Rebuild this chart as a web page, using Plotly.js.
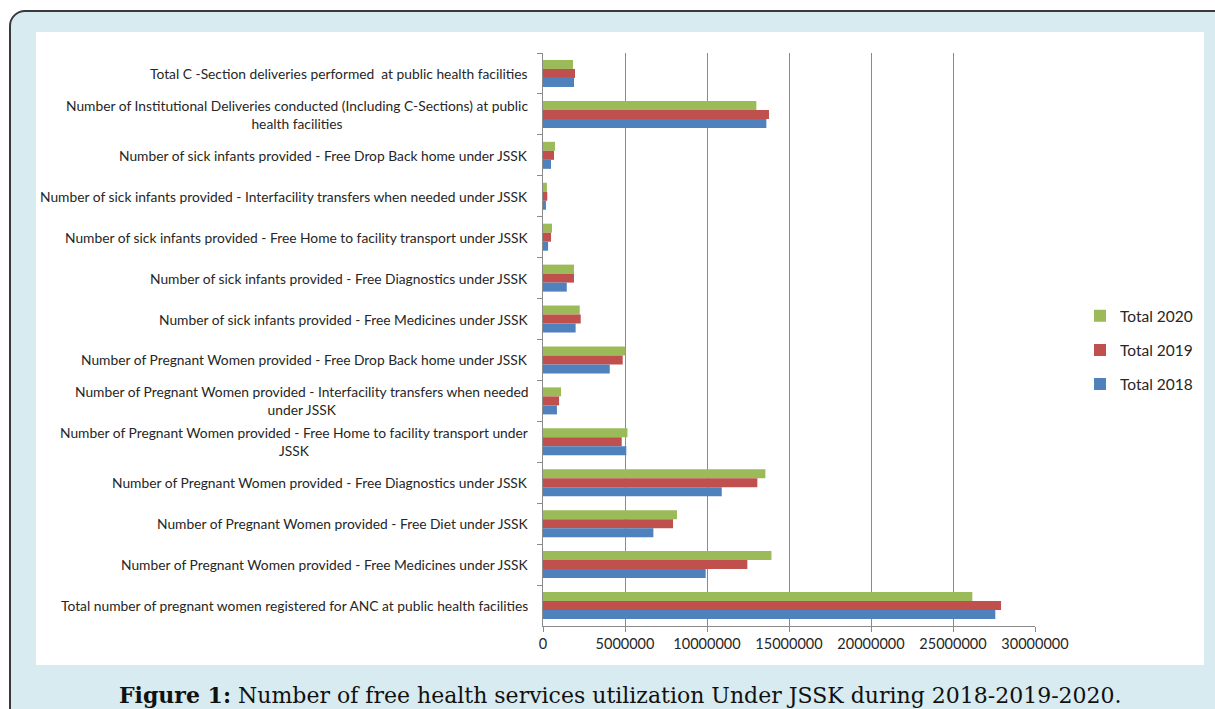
<!DOCTYPE html>
<html>
<head>
<meta charset="utf-8">
<script src="https://cdn.plot.ly/plotly-3.0.1.min.js"></script>
<style>
  html, body { margin: 0; padding: 0; background: #ffffff; overflow: hidden; width: 1215px; height: 709px; }
  #frame { position: absolute; left: 9px; top: 10px; width: 1240px; height: 740px; border: 2px solid #3a3a3a; border-radius: 16px; background: #d7ebf0; box-sizing: border-box; }
  #inner { position: absolute; left: 36px; top: 32px; width: 1168px; height: 633px; background: #ffffff; }
  #chart { position: absolute; left: 0; top: 0; width: 1215px; height: 709px; }
</style>
</head>
<body>
<div id="frame"></div>
<div id="inner"></div>
<div id="chart"></div>
<script>
// Categories, top to bottom as shown in the chart
const categories = [
  "Total C -Section deliveries performed  at public health facilities",
  "Number of Institutional Deliveries conducted (Including C-Sections) at public<br>health facilities",
  "Number of sick infants provided - Free Drop Back home under JSSK",
  "Number of sick infants provided - Interfacility transfers when needed under JSSK",
  "Number of sick infants provided - Free Home to facility transport under JSSK",
  "Number of sick infants provided - Free Diagnostics under JSSK",
  "Number of sick infants provided - Free Medicines under JSSK",
  "Number of Pregnant Women provided - Free Drop Back home under JSSK",
  "Number of Pregnant Women provided - Interfacility transfers when needed<br>under JSSK",
  "Number of Pregnant Women provided - Free Home to facility transport under<br>JSSK",
  "Number of Pregnant Women provided - Free Diagnostics under JSSK",
  "Number of Pregnant Women provided - Free Diet under JSSK",
  "Number of Pregnant Women provided - Free Medicines under JSSK",
  "Total number of pregnant women registered for ANC at public health facilities"
];

const total2020 = [1830000, 13010000, 730000, 240000, 550000, 1890000, 2240000, 5020000, 1100000, 5150000, 13560000, 8170000, 13930000, 26180000];
const total2019 = [1950000, 13780000, 670000, 260000, 490000, 1890000, 2300000, 4860000, 980000, 4800000, 13070000, 7930000, 12460000, 27930000];
const total2018 = [1890000, 13620000, 490000, 180000, 310000, 1450000, 1990000, 4070000, 850000, 5080000, 10900000, 6730000, 9920000, 27580000];

const seriesNames = ["Total 2020", "Total 2019", "Total 2018"];
const xTicks = [0, 5000000, 10000000, 15000000, 20000000, 25000000, 30000000];
const captionBold = "Figure 1:";
const captionText = " Number of free health services utilization Under JSSK during 2018-2019-2020.";

const colors = ["#9bbb59", "#c0504d", "#4f81bd"];
const seriesValues = [total2020, total2019, total2018];

const traces = seriesValues.map((vals, i) => ({
  type: "bar",
  orientation: "h",
  name: seriesNames[i],
  y: categories,
  x: vals,
  marker: { color: colors[i] },
  legendgroup: "g" + i,
  hoverinfo: "x+name"
}));

// plot-area geometry in pixels
const W = 1215, H = 709;
const L = 543, R = 1035, T = 53, B = 625.6;
const pw = R - L, ph = B - T;
const px = x => (x - L) / pw;
const py = y => (B - y) / ph;

const annotations = categories.map(c => ({
  xref: "paper", yref: "y",
  x: 0, y: c,
  xshift: -13,
  xanchor: "right", yanchor: "middle",
  align: "center",
  showarrow: false,
  text: c,
  font: { family: "Lato, 'Noto Sans', sans-serif", size: 13.8, color: "#262626" }
}));

annotations.push({
  xref: "paper", yref: "paper",
  x: px(620), y: py(695),
  xanchor: "center", yanchor: "middle",
  showarrow: false,
  text: "<b>" + captionBold + "</b>" + captionText,
  font: { family: "'DejaVu Serif', 'Liberation Serif', serif", size: 22, color: "#111111" }
});

const layout = {
  width: W, height: H,
  margin: { l: L, r: W - R, t: T, b: H - B, pad: 0, autoexpand: false },
  paper_bgcolor: "rgba(0,0,0,0)",
  plot_bgcolor: "rgba(0,0,0,0)",
  barmode: "group",
  bargap: 0.34,
  bargroupgap: 0,
  showlegend: true,
  legend: {
    x: px(1080), y: py(350),
    xanchor: "left", yanchor: "middle",
    bgcolor: "rgba(0,0,0,0)",
    font: { family: "Lato, 'Noto Sans', sans-serif", size: 15.5, color: "#262626" },
    tracegroupgap: 11,
    traceorder: "grouped"
  },
  xaxis: {
    range: [0, 30000000],
    tickvals: xTicks,
    ticktext: xTicks.map(v => String(v)),
    showgrid: true,
    gridcolor: "#8a8a8a",
    gridwidth: 1,
    zeroline: false,
    showline: true,
    linecolor: "#8a8a8a",
    linewidth: 1,
    ticks: "outside",
    ticklen: 5,
    tickcolor: "#8a8a8a",
    tickfont: { family: "Lato, 'Noto Sans', sans-serif", size: 14.5, color: "#262626" },
    fixedrange: true
  },
  yaxis: {
    type: "category",
    autorange: "reversed",
    showticklabels: false,
    showgrid: false,
    zeroline: false,
    showline: true,
    linecolor: "#8a8a8a",
    linewidth: 1,
    ticks: "outside",
    tickson: "boundaries",
    ticklen: 5,
    tickcolor: "#8a8a8a",
    fixedrange: true
  },
  annotations: annotations,
  font: { family: "Lato, 'Noto Sans', sans-serif" }
};

Plotly.newPlot("chart", traces, layout, { displayModeBar: false, staticPlot: true });
</script>
</body>
</html>
